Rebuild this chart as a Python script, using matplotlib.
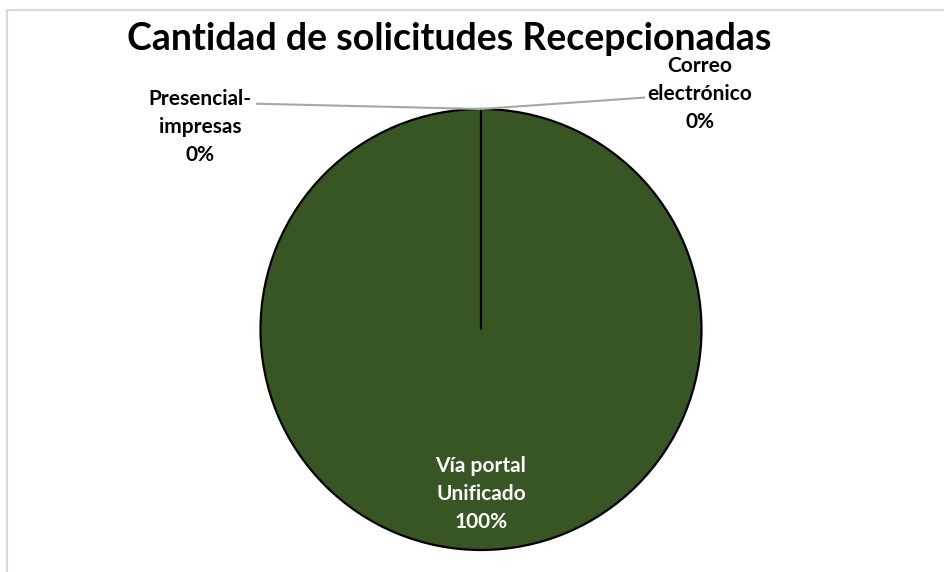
import numpy as np
import matplotlib
matplotlib.use("Agg")
import matplotlib.pyplot as plt
from matplotlib.lines import Line2D

plt.rcParams['font.family'] = ['Lato', 'DejaVu Sans']

# data (clockwise from 12 o'clock)
categories = ["Correo\nelectrónico", "Vía portal\nUnificado", "Presencial-\nimpresas"]
values = [0, 100, 0]
title = "Cantidad de solicitudes Recepcionadas"

W, H = 944, 572
fig = plt.figure(figsize=(W / 100, H / 100), dpi=100)

# pie centre (481, 329.5) px, radius 220.5 px
R = 220.5
ax = fig.add_axes([(481 - R) / W, (H - 329.5 - R) / H, 2 * R / W, 2 * R / H])
wedges, _ = ax.pie(values, startangle=90, counterclock=False, radius=1,
                   colors=["#375623", "#375623", "#375623"],
                   wedgeprops=dict(edgecolor="black", linewidth=1.6))
ax.set_xlim(-1, 1)
ax.set_ylim(-1, 1)
ax.set_aspect("equal")
ax.axis("off")

total = sum(values)
lab_pos = {0: (0.993, 1.068), 2: (-1.274, 0.918)}
line_end = {0: (0.744, 1.052), 2: (-1.02, 1.024)}
for i, (w, cat, v) in enumerate(zip(wedges, categories, values)):
    pct = f"{v / total * 100:.0f}%"
    if v == 0:
        ang = np.deg2rad(w.theta1)
        px, py = np.cos(ang), np.sin(ang)
        ex, ey = line_end[i]
        ax.plot([px, ex], [py, ey], color="#a6a6a6", lw=1.5, clip_on=False,
                solid_capstyle="butt")
        tx, ty = lab_pos[i]
        ax.text(tx, ty, cat + "\n" + pct, ha="center", va="center",
                fontsize=15, fontweight="bold", color="black",
                linespacing=1.5)
    else:
        ax.text(0, -0.746, cat + "\n" + pct, ha="center", va="center",
                fontsize=15, fontweight="bold", color="white",
                linespacing=1.5)

fig.text(449.5 / W, 1 - 39 / H, title, ha="center", va="center",
         fontsize=27, fontweight="bold")

# chart area border (top and left visible)
fig.add_artist(Line2D([7 / W, 1], [1 - 10 / H, 1 - 10 / H], color="#d9d9d9", lw=1.5))
fig.add_artist(Line2D([7 / W, 7 / W], [0, 1 - 10 / H], color="#d9d9d9", lw=1.5))

fig.savefig("out.png", dpi=100)
